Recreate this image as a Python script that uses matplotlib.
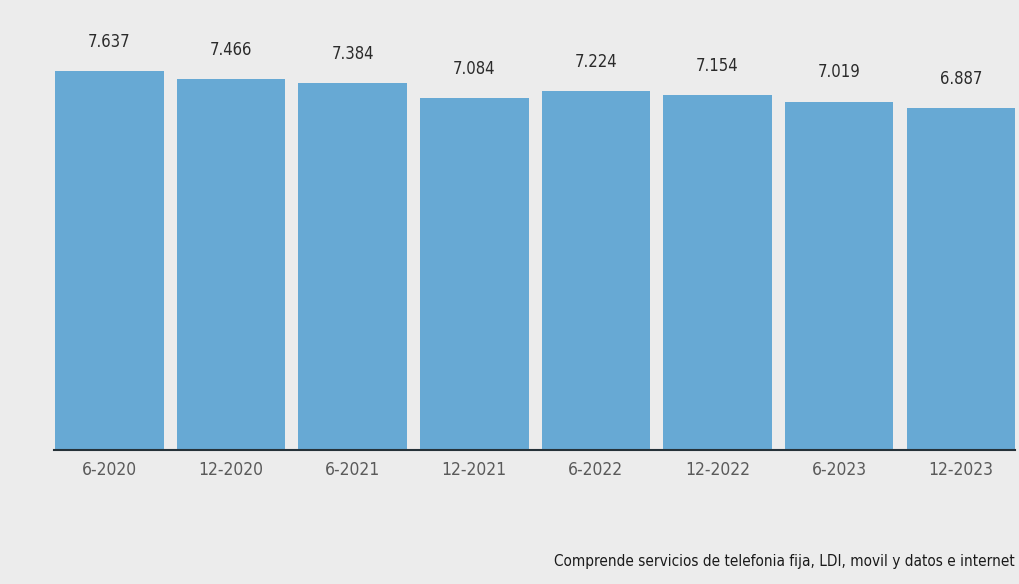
import matplotlib.pyplot as plt
from matplotlib import font_manager

periodos = ["6-2020", "12-2020", "6-2021", "12-2021", "6-2022", "12-2022", "6-2023", "12-2023"]
valores = [7.637, 7.466, 7.384, 7.084, 7.224, 7.154, 7.019, 6.887]
etiquetas = ["7.637", "7.466", "7.384", "7.084", "7.224", "7.154", "7.019", "6.887"]
nota = "Comprende servicios de telefonia fija, LDI, movil y datos e internet"

fondo = "#ececec"
ancho = 0.892

# fuente estrecha, parecida a la del original
fuente = font_manager.FontProperties(family="DejaVu Sans", stretch="condensed")

fig = plt.figure(figsize=(10.2, 5.84), dpi=100, facecolor=fondo)
ax = fig.add_axes([0.0529, 0.2295, 0.9422, 0.731])
ax.set_facecolor(fondo)

x = list(range(len(periodos)))
barras = ax.bar(x, valores, width=ancho, color="#67a9d4")

for barra, texto in zip(barras, etiquetas):
    ax.annotate(texto, (barra.get_x() + barra.get_width() / 2, barra.get_height()),
                xytext=(0, 21), textcoords="offset points", ha="center", va="center",
                fontproperties=fuente, fontsize=12, color="#2b2b2b")

ax.set_xlim(-ancho / 2 - 0.01, len(periodos) - 1 + ancho / 2)
ax.set_ylim(0, 8.6)
ax.set_xticks(x)
ax.set_xticklabels(periodos)
for t in ax.get_xticklabels():
    t.set_fontproperties(fuente)
    t.set_fontsize(12.5)
    t.set_color("#5a5a5a")
ax.tick_params(axis="x", length=0, pad=8)
ax.set_yticks([])

for lado in ["top", "right", "left"]:
    ax.spines[lado].set_visible(False)
ax.spines["bottom"].set_color("#263238")
ax.spines["bottom"].set_linewidth(1.5)

fig.text(0.995, 0.038, nota, ha="right", va="center", fontproperties=fuente,
         fontsize=11, color="#1a1a1a")

plt.savefig("out.png", dpi=100, facecolor=fondo)
plt.close()
